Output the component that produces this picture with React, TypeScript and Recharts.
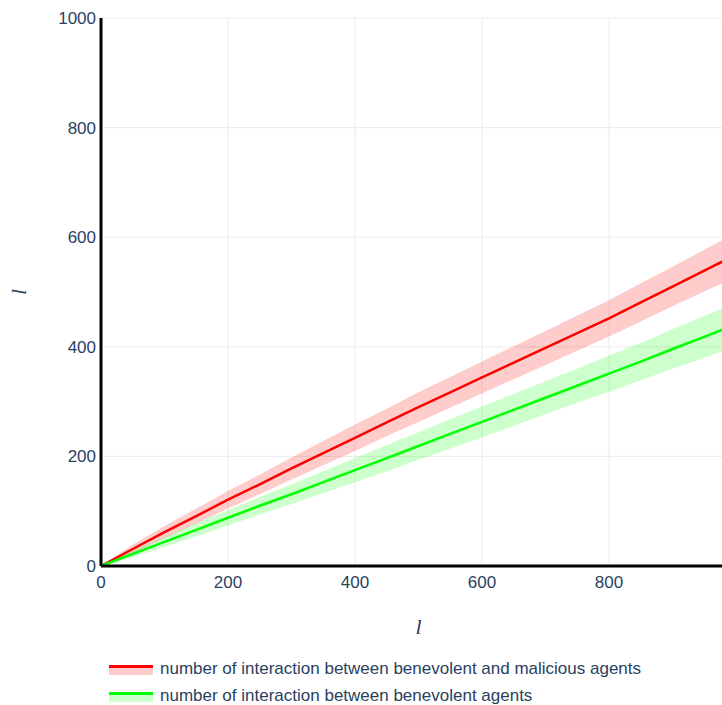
import React from 'react'
import {
  ComposedChart,
  Area,
  Line,
  XAxis,
  YAxis,
  CartesianGrid,
} from 'recharts'

// steps along l
const steps = [0, 50, 100, 150, 200, 250, 300, 350, 400, 450, 500, 550, 600, 650, 700, 750, 800, 850, 900, 950, 1000]

// benevolent <-> malicious interactions (mean and half band)
const redMean = [0, 31, 62, 91, 121, 149, 178, 206, 234, 262, 290, 317, 344, 371, 398, 425, 452, 481, 510, 539, 568]
const redSpread = [0, 8, 11, 14, 16, 18, 20, 22, 24, 25, 27, 28, 29, 30, 31, 32, 33, 35, 36, 38, 40]

// benevolent <-> benevolent interactions
const greenMean = [0, 22, 44, 66, 88, 110, 131, 153, 175, 197, 219, 241, 263, 285, 307, 329, 351, 373, 396, 418, 441]
const greenSpread = [0, 6, 9, 12, 14, 16, 18, 20, 22, 24, 25, 27, 28, 29, 30, 31, 33, 34, 36, 38, 40]

// the plot runs past the window edge, so 1000 is never shown on x
const xTicks = [0, 200, 400, 600, 800]
const yTicks = [0, 200, 400, 600, 800, 1000]

const legendItems = [
  { label: 'number of interaction between benevolent and malicious agents', line: '#ff0000', fill: '#ffcccc' },
  { label: 'number of interaction between benevolent agents', line: '#00ff00', fill: '#ccffcc' },
]

const data = steps.map((l, i) => ({
  l,
  red: redMean[i],
  redBand: [redMean[i] - redSpread[i], redMean[i] + redSpread[i]],
  green: greenMean[i],
  greenBand: [greenMean[i] - greenSpread[i], greenMean[i] + greenSpread[i]],
}))

const textColor = '#2a3f5f'
const tickStyle = { fontSize: 17, fill: textColor, fontFamily: '"Liberation Sans", Arial, sans-serif' }
const titleStyle = { fontSize: 22, fontStyle: 'italic', fontFamily: '"Liberation Serif", "Times New Roman", serif' }

export default function App() {
  return (
    <div
      style={{
        position: 'absolute',
        left: 0,
        top: 0,
        width: 722,
        height: 705,
        overflow: 'hidden',
        background: '#fff',
      }}
    >
      <ComposedChart
        width={800}
        height={640}
        data={data}
        margin={{ top: 18, right: 64, left: 0, bottom: 0 }}
      >
        <CartesianGrid stroke="#ebebeb" strokeWidth={1} horizontalValues={yTicks} verticalValues={xTicks} />
        <XAxis
          dataKey="l"
          type="number"
          domain={[0, 1000]}
          ticks={xTicks}
          height={74}
          tickLine={false}
          tickSize={0}
          tickMargin={10}
          axisLine={{ stroke: '#000', strokeWidth: 3 }}
          tick={tickStyle}
          label={({ viewBox }: any) => (
            <text
              x={viewBox.x + viewBox.width / 2}
              y={viewBox.y + 68}
              textAnchor="middle"
              fill={textColor}
              style={titleStyle}
            >
              l
            </text>
          )}
        />
        <YAxis
          type="number"
          domain={[0, 1000]}
          ticks={yTicks}
          width={101}
          tickLine={false}
          tickSize={0}
          tickMargin={5}
          axisLine={{ stroke: '#000', strokeWidth: 3 }}
          tick={tickStyle}
          label={({ viewBox }: any) => (
            <text
              x={26}
              y={viewBox.y + viewBox.height / 2}
              textAnchor="middle"
              fill={textColor}
              transform={`rotate(-90 26 ${viewBox.y + viewBox.height / 2})`}
              style={titleStyle}
            >
              l
            </text>
          )}
        />
        <Area
          dataKey="redBand"
          type="linear"
          stroke="none"
          fill="#ff0000"
          fillOpacity={0.2}
          isAnimationActive={false}
        />
        <Area
          dataKey="greenBand"
          type="linear"
          stroke="none"
          fill="#00ff00"
          fillOpacity={0.2}
          isAnimationActive={false}
        />
        <Line dataKey="red" type="linear" stroke="#ff0000" strokeWidth={2.5} dot={false} isAnimationActive={false} />
        <Line dataKey="green" type="linear" stroke="#00ff00" strokeWidth={2.5} dot={false} isAnimationActive={false} />
      </ComposedChart>

      <div style={{ position: 'absolute', left: 109, top: 655, fontFamily: '"Liberation Sans", Arial, sans-serif' }}>
        {legendItems.map(item => (
          <div key={item.label} style={{ display: 'flex', alignItems: 'center', height: 27 }}>
            <svg width={44} height={14} style={{ marginRight: 7 }}>
              <rect x={0} y={5} width={44} height={8} fill={item.fill} />
              <line x1={0} x2={44} y1={4.5} y2={4.5} stroke={item.line} strokeWidth={3} />
            </svg>
            <span style={{ fontSize: 17, color: textColor, lineHeight: '27px', whiteSpace: 'nowrap' }}>{item.label}</span>
          </div>
        ))}
      </div>
    </div>
  )
}
